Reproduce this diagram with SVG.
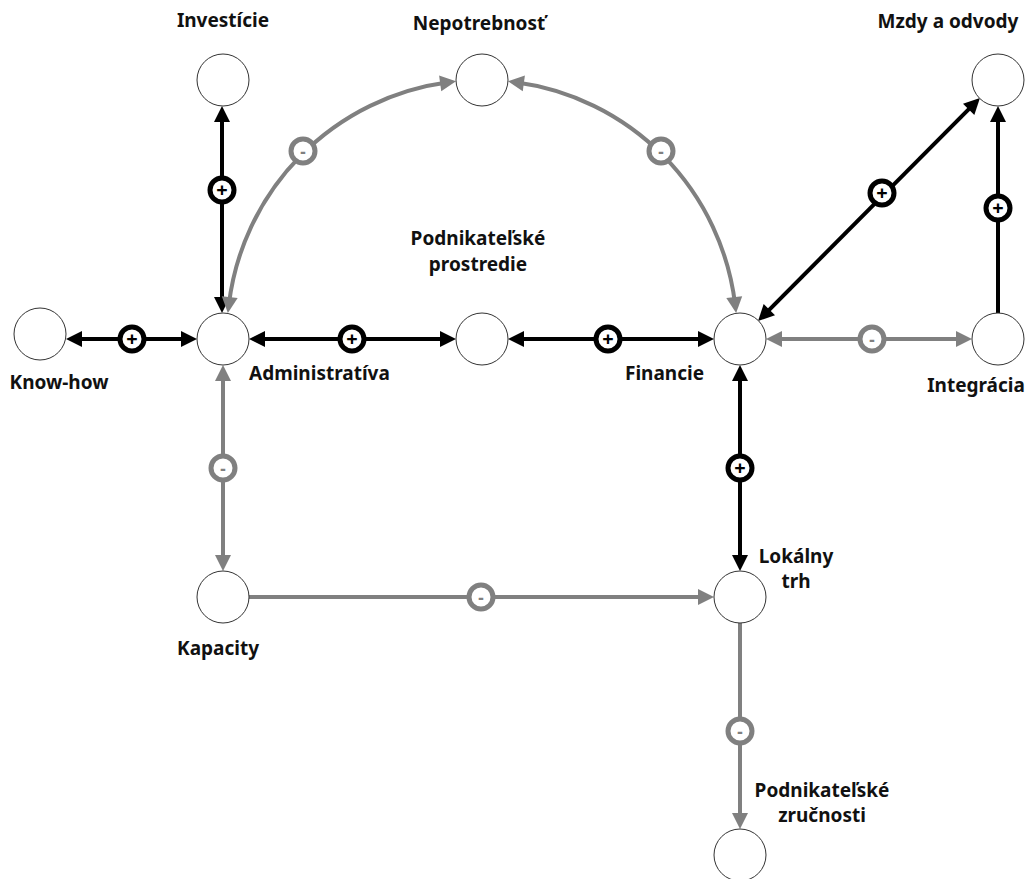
<svg xmlns="http://www.w3.org/2000/svg" width="1029" height="879" viewBox="0 0 1029 879">
<style>
.node{fill:#fff;stroke:#333;stroke-width:1}
.lbl{font-family:"Noto Sans","Liberation Sans",sans-serif;font-weight:bold;font-size:19px;fill:#111;text-anchor:middle}
.pos{fill:none;stroke:#000;stroke-width:4}
.neg{fill:none;stroke:#808080;stroke-width:4}
.pb{fill:#fff;stroke:#000;stroke-width:5}
.nb{fill:#fff;stroke:#808080;stroke-width:5}
.pt{font-family:"Noto Sans","Liberation Sans",sans-serif;font-weight:bold;font-size:20px;fill:#000;text-anchor:middle}
.nt{font-family:"Noto Sans","Liberation Sans",sans-serif;font-weight:bold;font-size:17px;fill:#808080;text-anchor:middle}
</style>
<defs>
<marker id="ab" markerUnits="userSpaceOnUse" markerWidth="16" markerHeight="16" refX="8" refY="8" orient="auto-start-reverse" overflow="visible">
<path d="M0,0 L16,8 L0,16 z" fill="#000"/>
</marker>
<marker id="ag" markerUnits="userSpaceOnUse" markerWidth="16" markerHeight="16" refX="8" refY="8" orient="auto-start-reverse" overflow="visible">
<path d="M0,0 L16,8 L0,16 z" fill="#808080"/>
</marker>
</defs>
<g id="connectors">
<line class="pos" x1="74" y1="339" x2="189" y2="339" marker-start="url(#ab)" marker-end="url(#ab)"/>
<line class="pos" x1="257" y1="339" x2="448" y2="339" marker-start="url(#ab)" marker-end="url(#ab)"/>
<line class="pos" x1="516" y1="339" x2="706" y2="339" marker-start="url(#ab)" marker-end="url(#ab)"/>
<line class="neg" x1="774" y1="339" x2="964" y2="339" marker-start="url(#ag)" marker-end="url(#ag)"/>
<line class="pos" x1="998" y1="313" x2="998" y2="114" marker-end="url(#ab)"/>
<line class="pos" x1="763.7" y1="315.3" x2="974.3" y2="103.7" marker-start="url(#ab)" marker-end="url(#ab)"/>
<line class="pos" x1="222" y1="305" x2="222" y2="114" marker-start="url(#ab)" marker-end="url(#ab)"/>
<line class="neg" x1="223" y1="373" x2="223" y2="563" marker-start="url(#ag)" marker-end="url(#ag)"/>
<line class="neg" x1="249" y1="597" x2="706" y2="597" marker-end="url(#ag)"/>
<line class="pos" x1="740" y1="373" x2="740" y2="563" marker-start="url(#ab)" marker-end="url(#ab)"/>
<line class="neg" x1="740" y1="623" x2="740" y2="821" marker-end="url(#ag)"/>
<path class="neg" d="M228.8,305.1 A255,255 0 0 1 448.1,82.3" marker-start="url(#ag)" marker-end="url(#ag)"/>
<path class="neg" d="M515.9,82.3 A255,255 0 0 1 735.2,305.1" marker-start="url(#ag)" marker-end="url(#ag)"/>
<g id="polarity">
<circle class="pb" cx="132" cy="339" r="12"/><text class="pt" x="132" y="346">+</text>
<circle class="pb" cx="352" cy="339" r="12"/><text class="pt" x="352" y="346">+</text>
<circle class="pb" cx="608" cy="339" r="12"/><text class="pt" x="608" y="346">+</text>
<circle class="nb" cx="872" cy="339" r="12"/><text class="nt" x="872" y="345.5">-</text>
<circle class="pb" cx="998" cy="208" r="12"/><text class="pt" x="998" y="215">+</text>
<circle class="pb" cx="882" cy="193" r="12"/><text class="pt" x="882" y="200">+</text>
<circle class="pb" cx="222" cy="190" r="12"/><text class="pt" x="222" y="197">+</text>
<circle class="nb" cx="223" cy="468" r="12"/><text class="nt" x="223" y="474.5">-</text>
<circle class="nb" cx="481" cy="597" r="12"/><text class="nt" x="481" y="603.5">-</text>
<circle class="pb" cx="740" cy="468" r="12"/><text class="pt" x="740" y="475">+</text>
<circle class="nb" cx="740" cy="731" r="12"/><text class="nt" x="740" y="737.5">-</text>
<circle class="nb" cx="303" cy="151" r="12"/><text class="nt" x="303" y="157.5">-</text>
<circle class="nb" cx="661" cy="151" r="12"/><text class="nt" x="661" y="157.5">-</text>
</g>
</g>
<g id="investicie"><circle class="node" cx="223" cy="80" r="26"/><text class="lbl" x="223" y="27">Investície</text></g>
<g id="nepotrebnost"><circle class="node" cx="482" cy="80" r="26"/><text class="lbl" x="479" y="30">Nepotrebnosť</text></g>
<g id="mzdy"><circle class="node" cx="998" cy="80" r="26"/><text class="lbl" x="948" y="28">Mzdy a odvody</text></g>
<g id="knowhow"><circle class="node" cx="40" cy="334" r="26"/><text class="lbl" x="59" y="389">Know-how</text></g>
<g id="administrativa"><circle class="node" cx="223" cy="339" r="26"/><text class="lbl" x="249" y="380" style="text-anchor:start">Administratíva</text></g>
<g id="prostredie"><circle class="node" cx="482" cy="339" r="26"/><text class="lbl" x="478" y="245">Podnikateľské</text><text class="lbl" x="478" y="271">prostredie</text></g>
<g id="financie"><circle class="node" cx="740" cy="339" r="26"/><text class="lbl" x="704" y="380" style="text-anchor:end">Financie</text></g>
<g id="integracia"><circle class="node" cx="998" cy="339" r="26"/><text class="lbl" x="976" y="392">Integrácia</text></g>
<g id="kapacity"><circle class="node" cx="223" cy="597" r="26"/><text class="lbl" x="218" y="655">Kapacity</text></g>
<g id="lokalny"><circle class="node" cx="740" cy="597" r="26"/><text class="lbl" x="796" y="563">Lokálny</text><text class="lbl" x="796" y="588">trh</text></g>
<g id="zrucnosti"><circle class="node" cx="740" cy="855" r="26"/><text class="lbl" x="822" y="797">Podnikateľské</text><text class="lbl" x="822" y="822">zručnosti</text></g>
</svg>
